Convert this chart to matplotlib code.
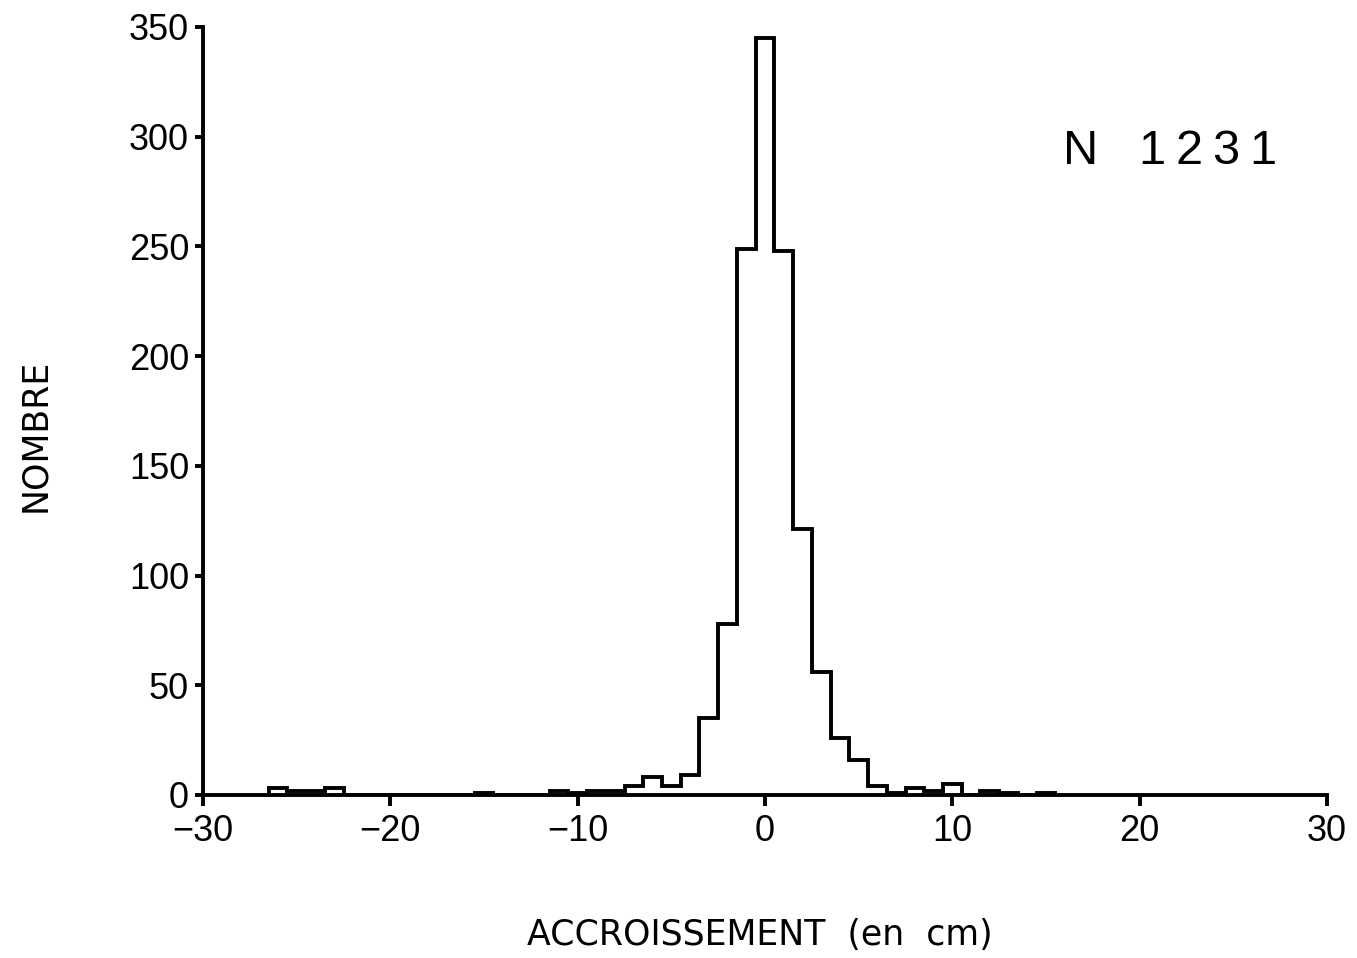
import numpy as np
import matplotlib
matplotlib.use("Agg")
import matplotlib.pyplot as plt

plt.rcParams['font.family'] = ['Liberation Sans', 'DejaVu Sans']

# classes of 1 cm, centred on the integers -26 .. 15
centres = np.arange(-26, 16)
counts = [3, 2, 2, 3, 0, 0, 0, 0, 0, 0, 0, 1, 0, 0, 0, 2, 1, 2, 2, 4,
          8, 4, 9, 35, 78, 249, 345, 248, 121, 56, 26, 16, 4, 1, 3, 2,
          5, 0, 2, 1, 0, 1]
n_total = "1231"

x_ticks = [-30, -20, -10, 0, 10, 20, 30]
y_ticks = [0, 50, 100, 150, 200, 250, 300, 350]

W, H = 1357, 958
fig = plt.figure(figsize=(W / 100, H / 100), dpi=100)
ax = fig.add_axes([203 / W, 1 - 795 / H, 1124 / W, 768 / H])

edges = np.append(centres - 0.5, centres[-1] + 0.5)
ax.stairs(counts, edges, color='black', linewidth=2.8, baseline=0)

ax.set_xlim(-30, 30)
ax.set_ylim(0, 350)
ax.set_xticks(x_ticks)
ax.set_yticks(y_ticks)
for s in ['top', 'right']:
    ax.spines[s].set_visible(False)
for s in ['left', 'bottom']:
    ax.spines[s].set_linewidth(2.8)
ax.tick_params(axis='x', direction='out', length=8, width=2.8, labelsize=26, pad=6)
ax.tick_params(axis='y', direction='out', length=6, width=2.8, labelsize=26, pad=4)

fig.text(760 / W, 1 - 935 / H, 'ACCROISSEMENT  (en  cm)', fontsize=25,
         family='DejaVu Sans', ha='center', va='center')
fig.text(35 / W, 1 - 435 / H, 'NOMBRE', rotation=90, fontsize=25,
         family='DejaVu Sans', ha='center', va='center')

# wide-spaced "N 1231" label
label = 'N' + n_total
xs = [1063, 1138, 1175, 1212, 1249]
for ch, xp in zip(label, xs):
    fig.text(xp / W, 1 - 164 / H, ch, fontsize=35, ha='left', va='baseline')

fig.savefig('out.png', dpi=100)
